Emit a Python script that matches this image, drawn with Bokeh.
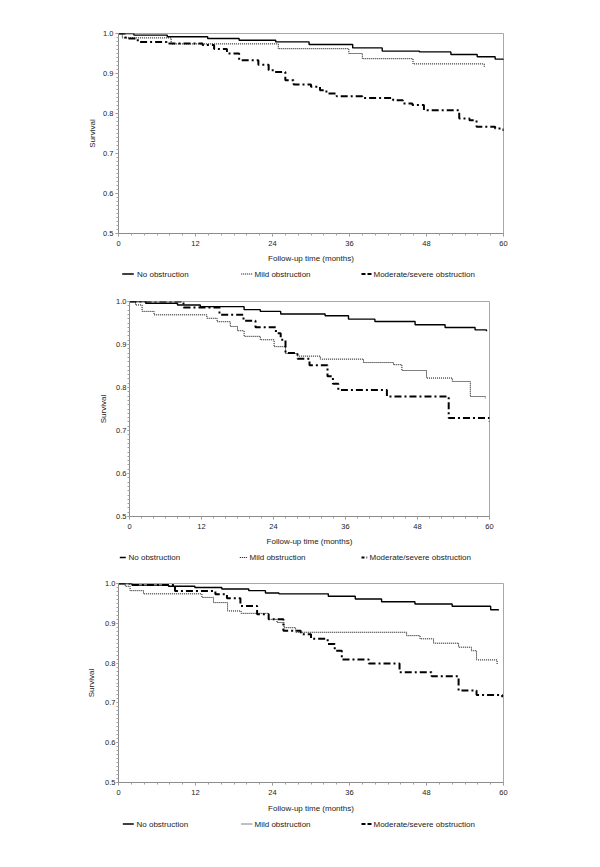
from bokeh.plotting import figure
from bokeh.models import FixedTicker, NumeralTickFormatter, Spacer
from bokeh.layouts import column, row
from bokeh.core.properties import value
from bokeh.embed import file_html
from bokeh.resources import INLINE

# ---------------- data ----------------
series_names = ["No obstruction", "Mild obstruction", "Moderate/severe obstruction"]
x_ticks = [0, 12, 24, 36, 48, 60]
x_minor = list(range(0, 61, 2))
y_ticks = [0.5, 0.6, 0.7, 0.8, 0.9, 1.0]
y_minor = [round(0.5 + 0.01 * i, 2) for i in range(51)]
x_label = "Follow-up time (months)"
y_label = "Survival"

# Panel 1
p1_t_none = [0, 2.4, 7.6, 13.9, 18.8, 24.5, 29.7, 36.5, 41.1, 46.9, 51.8, 55.9, 58.7, 60.0]
p1_s_none = [1.0, 0.996, 0.992, 0.9875, 0.983, 0.979, 0.9725, 0.964, 0.956, 0.954, 0.9475, 0.942, 0.936, 0.934]
p1_t_mild = [0, 0.6, 8.2, 24.9, 35.9, 38.0, 45.9, 57.0]
p1_s_mild = [1.0, 0.989, 0.974, 0.962, 0.950, 0.937, 0.924, 0.916]
p1_t_mod = [0, 1.1, 3.0, 7.5, 13.1, 14.9, 16.9, 18.8, 21.8, 23.4, 24.2, 26.0, 27.3, 30.0, 31.4,
            32.4, 34.0, 38.0, 42.8, 44.3, 45.8, 47.6, 53.1, 54.7, 55.8, 58.7, 60.0]
p1_s_mod = [1.0, 0.9875, 0.979, 0.975, 0.971, 0.961, 0.950, 0.933, 0.922, 0.908, 0.904, 0.883, 0.8725, 0.867, 0.858,
            0.850, 0.843, 0.839, 0.833, 0.825, 0.821, 0.808, 0.7875, 0.783, 0.767, 0.7625, 0.756]

# Panel 2
p2_t_none = [0, 2.7, 8.0, 11.8, 19.1, 21.8, 25.2, 32.6, 36.5, 40.9, 47.6, 52.6, 57.6, 59.5]
p2_s_none = [1.0, 0.996, 0.992, 0.988, 0.981, 0.977, 0.971, 0.967, 0.959, 0.9535, 0.946, 0.9395, 0.934, 0.931]
p2_t_mild = [0, 1.0, 2.1, 4.1, 12.9, 14.6, 16.8, 18.0, 19.1, 21.8, 24.1, 26.0, 28.0, 31.8, 39.0, 44.0,
             45.4, 49.5, 53.8, 56.8, 59.3]
p2_s_mild = [1.0, 0.992, 0.977, 0.969, 0.961, 0.953, 0.942, 0.932, 0.919, 0.911, 0.895, 0.879, 0.873, 0.866, 0.858, 0.853,
             0.8395, 0.822, 0.814, 0.779, 0.775]
p2_t_mod = [0, 9.0, 15.0, 19.0, 21.0, 24.4, 25.2, 26.0, 28.0, 30.0, 33.0, 33.9, 34.8, 42.9, 53.2, 60.0]
p2_s_mod = [1.0, 0.986, 0.969, 0.955, 0.940, 0.926, 0.911, 0.880, 0.867, 0.852, 0.826, 0.809, 0.794, 0.779, 0.729, 0.720]

# Panel 3
p3_t_none = [0, 2.1, 7.8, 11.9, 16.1, 20.3, 22.9, 25.0, 32.7, 36.9, 41.0, 46.2, 52.0, 58.0, 59.2]
p3_s_none = [1.0, 0.996, 0.993, 0.990, 0.986, 0.982, 0.976, 0.974, 0.968, 0.961, 0.954, 0.9485, 0.943, 0.934, 0.932]
p3_t_mild = [0, 1.05, 1.8, 3.9, 13.0, 14.8, 17.0, 19.1, 23.4, 24.7, 25.8, 27.6, 44.9, 47.0, 49.1, 53.0, 55.0, 55.8, 59.0]
p3_s_mild = [1.0, 0.993, 0.982, 0.974, 0.965, 0.952, 0.931, 0.925, 0.910, 0.902, 0.889, 0.8775, 0.869, 0.861, 0.850,
             0.840, 0.831, 0.808, 0.798]
p3_t_mod = [0, 1.9, 8.8, 15.1, 16.9, 19.0, 21.6, 23.4, 25.7, 28.4, 30.0, 32.6, 33.7, 34.8, 39.0, 43.8, 48.8, 53.0, 55.8, 59.8]
p3_s_mod = [1.0, 0.996, 0.981, 0.973, 0.963, 0.9435, 0.923, 0.910, 0.881, 0.8725, 0.861, 0.848, 0.831, 0.809, 0.799,
            0.777, 0.767, 0.731, 0.720, 0.714]

# ---------------- styling ----------------
FONT = "Liberation Sans"
STYLES = [
    dict(line_width=1.4, line_dash="solid"),
    dict(line_width=1.0, line_dash="1 1"),
    dict(line_width=2.0, line_dash="7 3 2 3"),
]
LEFT, FRAME_W, RIGHT = 118, 385, 97


def make_panel(curves, fw, top, fh, bottom, ytick_out, ytick_standoff, ylab_standoff, xlab_standoff):
    p = figure(frame_width=fw, frame_height=fh,
               min_border_left=LEFT, min_border_right=RIGHT,
               min_border_top=top, min_border_bottom=bottom,
               x_range=(0, 60), y_range=(0.5, 1.0),
               output_backend="svg", toolbar_location=None)
    p.background_fill_color = "white"
    p.border_fill_color = "white"
    p.outline_line_color = "#a8a8a8"
    p.outline_line_width = 1
    p.grid.visible = False

    p.xaxis.ticker = FixedTicker(ticks=x_ticks, minor_ticks=x_minor)
    p.yaxis.ticker = FixedTicker(ticks=y_ticks, minor_ticks=y_minor)
    p.yaxis.formatter = NumeralTickFormatter(format="0.0")
    for ax in (p.xaxis[0], p.yaxis[0]):
        ax.axis_line_color = "#8c8c8c"
        ax.major_tick_line_color = "#8c8c8c"
        ax.minor_tick_line_color = "#a0a0a0"
        ax.major_tick_in = 0
        ax.minor_tick_in = 0
        ax.minor_tick_out = 2
        ax.major_label_text_font = FONT
        ax.major_label_text_font_size = "7.5px"
        ax.major_label_text_color = "#222222"
        ax.axis_label_text_font = FONT
        ax.axis_label_text_font_size = "8px"
        ax.axis_label_text_font_style = "normal"
        ax.axis_label_text_color = "#222222"
    p.xaxis.major_tick_out = 3
    p.xaxis.major_label_standoff = 4
    p.xaxis.axis_label_standoff = xlab_standoff
    p.yaxis.major_tick_out = ytick_out
    p.yaxis.major_label_standoff = ytick_standoff
    p.yaxis.axis_label_standoff = ylab_standoff
    p.xaxis.axis_label = x_label
    p.yaxis.axis_label = y_label

    for (t, s), st in zip(curves, STYLES):
        p.step(t, s, mode="after", line_color="black", **st)
    return p


def make_legend(h, yc, seg_x0, seg_x1, text_x, mod_dash):
    # legend strip: x in page pixels, y in pixels from the strip top
    lg = figure(frame_width=FRAME_W, frame_height=h,
                min_border_left=LEFT, min_border_right=RIGHT,
                min_border_top=0, min_border_bottom=0,
                x_range=(LEFT, LEFT + FRAME_W), y_range=(h, 0),
                x_axis_location=None, y_axis_location=None,
                output_backend="svg", toolbar_location=None)
    lg.outline_line_color = None
    lg.grid.visible = False
    dashes = ["solid", "1 1", mod_dash]
    widths = [1.4, 1.0, 2.0]
    for i in range(3):
        lg.line([seg_x0[i], seg_x1[i]], [yc, yc], line_color="black",
                line_width=widths[i], line_dash=dashes[i])
    lg.text(x=text_x, y=[yc] * 3, text=series_names, text_font=value(FONT),
            text_font_size="8px", text_baseline="middle", text_align="left",
            text_color="#222222")
    return lg


p1 = make_panel([(p1_t_none, p1_s_none), (p1_t_mild, p1_s_mild), (p1_t_mod, p1_s_mod)],
                fw=385, top=33, fh=200, bottom=34,
                ytick_out=3, ytick_standoff=2, ylab_standoff=3, xlab_standoff=5)
l1 = make_legend(23, 6.5, [121.7, 240.7, 361.0], [133.3, 251.7, 371.7], [136.5, 254.0, 373.0], "4 2")

p2 = make_panel([(p2_t_none, p2_s_none), (p2_t_mild, p2_s_mild), (p2_t_mod, p2_s_mod)],
                fw=360, top=11, fh=215, bottom=34,
                ytick_out=2, ytick_standoff=1, ylab_standoff=5, xlab_standoff=5)
l2 = make_legend(25, 7.0, [119.3, 239.3, 361.0], [125.3, 246.7, 366.7], [128.0, 249.0, 369.0], "3 2 1 3")

p3 = make_panel([(p3_t_none, p3_s_none), (p3_t_mild, p3_s_mild), (p3_t_mod, p3_s_mod)],
                fw=385, top=8, fh=199, bottom=34,
                ytick_out=2, ytick_standoff=1, ylab_standoff=6, xlab_standoff=6)
l3 = make_legend(29, 7.5, [122.3, 241.0, 361.0], [133.3, 251.7, 371.7], [136.0, 254.0, 373.0], "4 2")

layout = column(p1, l1, row(Spacer(width=11), p2), l2, p3, l3)
open("out.html", "w").write(file_html(layout, INLINE))
